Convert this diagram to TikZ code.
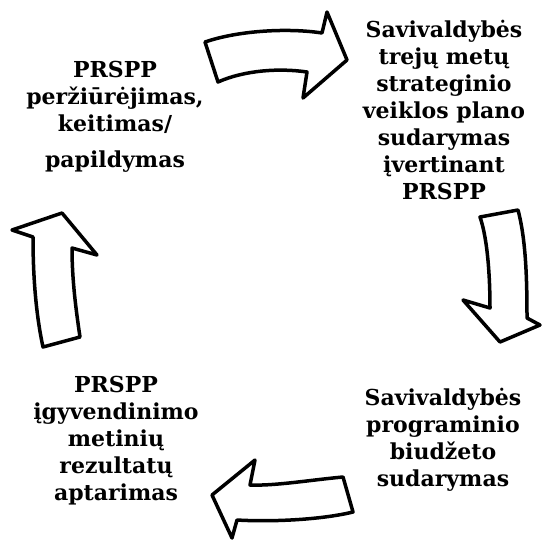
\documentclass[tikz,border=0pt]{standalone}
\usepackage{fontspec}
\setmainfont{DejaVu Serif}
\usepackage{tikz}

\begin{document}
\begin{tikzpicture}[x=1pt,y=-1pt,
  every node/.style={font=\fontsize{22}{27}\selectfont\bfseries,
  align=center,inner sep=0pt,anchor=north},
  blockarrow/.style={draw=black,fill=white,line width=3.5pt,line join=round},]

  \useasboundingbox (0,0) rectangle (543,542);

  % texts
  \node (review) at (115,61) {PRSPP\\ peržiūrėjimas,\\ keitimas/\\[9pt] papildymas};
  \node (plan) at (444,20) {Savivaldybės\\ trejų metų\\ strateginio\\ veiklos plano\\ sudarymas\\ įvertinant\\ PRSPP};
  \node (budget) at (443,388) {Savivaldybės\\ programinio\\ biudžeto\\ sudarymas};
  \node (results) at (116,376) {PRSPP\\ įgyvendinimo\\ metinių\\ rezultatų\\ aptarimas};

  % top arrow
  \draw[blockarrow] (205,42) .. controls (240,30) and (290,28) .. (322,33)
    -- (327,12) -- (347,60) -- (303,98) -- (307,72)
    .. controls (280,68) and (245,70) .. (218,82) -- cycle;

  % right arrow
  \draw[blockarrow] (480,217) -- (518,210)
    .. controls (526,240) and (527,280) .. (527,318)
    -- (540,325) -- (500,342) -- (463,300) -- (490,308)
    .. controls (490,280) and (488,240) .. (480,217) -- cycle;

  % bottom arrow
  \draw[blockarrow] (343,477) .. controls (310,480) and (275,486) .. (250,485)
    -- (255,460) -- (212,495) -- (232,538) -- (237,520)
    .. controls (270,522) and (320,520) .. (353,512) -- cycle;

  % left arrow
  \draw[blockarrow] (43,347) .. controls (35,310) and (33,270) .. (33,237)
    -- (12,230) -- (62,213) -- (97,255) -- (72,248)
    .. controls (72,280) and (76,310) .. (80,337) -- cycle;

\end{tikzpicture}
\end{document}
